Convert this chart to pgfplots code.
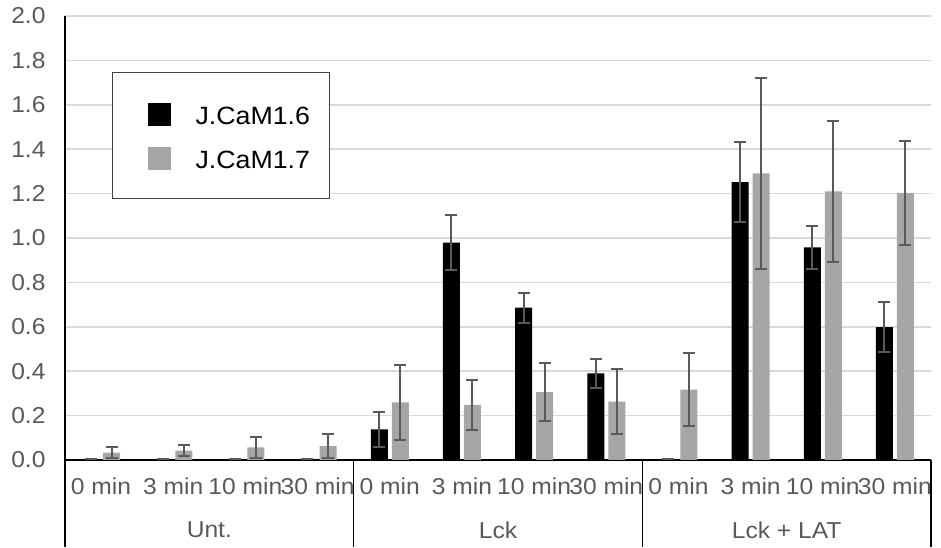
\documentclass[border=0pt]{standalone}
\usepackage{pgfplots}
\usepackage{pgfplotstable}
\pgfplotsset{compat=1.18}
\usepackage{fontspec}
\setmainfont{Liberation Sans}[FakeStretch=1.07]
\definecolor{bargray}{HTML}{A6A6A6}
\definecolor{errgray}{HTML}{595959}
\definecolor{labgray}{HTML}{595959}
\definecolor{gridgray}{HTML}{D9D9D9}
\newcommand\lab{\fontsize{23}{27}\selectfont}
\newcommand\leg{\fontsize{25}{29}\selectfont}

\pgfplotstableread{
x y e
0 0.004 0
1 0.004 0
2 0.004 0
3 0.004 0
4 0.138 0.080
5 0.979 0.125
6 0.686 0.068
7 0.390 0.066
8 0.004 0
9 1.252 0.180
10 0.958 0.098
11 0.599 0.113
}\blackdata

\pgfplotstableread{
x y e
0 0.033 0.025
1 0.042 0.026
2 0.057 0.048
3 0.063 0.053
4 0.260 0.170
5 0.248 0.112
6 0.306 0.130
7 0.263 0.145
8 0.317 0.165
9 1.291 0.430
10 1.210 0.316
11 1.203 0.233
}\graydata

\begin{document}
\begin{tikzpicture}
\begin{axis}[
  at={(0pt,0pt)}, anchor=south west,
  scale only axis, width=866pt, height=444pt,
  xmin=-0.5, xmax=11.5, ymin=0, ymax=2,
  ybar=4pt, bar width=17pt,
  axis x line=bottom, axis y line=left,
  axis line style={-, black, line width=1.5pt},
  ytick={0,0.2,0.4,0.6,0.8,1.0,1.2,1.4,1.6,1.8,2.0},
  ymajorgrids, grid style={gridgray, line width=1.5pt},
  major tick length=0pt,
  xtick={0,1,2,3,4,5,6,7,8,9,10,11},
  xticklabels={0 min,3 min,10 min,30 min,0 min,3 min,10 min,30 min,0 min,3 min,10 min,30 min},
  yticklabel style={font=\lab, text=labgray, xshift=-16pt,
     /pgf/number format/fixed, /pgf/number format/fixed zerofill,
     /pgf/number format/precision=1, /pgf/number format/assume math mode=true},
  xticklabel style={font=\lab, text=labgray, yshift=-14pt},
  clip=false,
  legend cell align=left,
  legend style={at={(0.0543,0.8739)}, anchor=north west, draw=black!75, line width=1pt,
     fill=white, font=\leg, inner xsep=17pt, inner ysep=26pt, row sep=14.3pt, column sep=23pt},
  legend image code/.code={\path (-18pt,18.2pt) (-18pt,-9.8pt);\fill[#1,/tikz/.cd] (0pt,-9.8pt) rectangle (23pt,13.2pt);},
  error bars/y dir=both, error bars/y explicit,
  error bars/error bar style={draw=errgray, line width=2pt},
  error bars/error mark options={rotate=90, draw=errgray, line width=2pt, mark size=6pt},
]
\addplot[fill=black, draw=none] table[x=x, y=y, y error=e] {\blackdata};
\addlegendentry{J.CaM1.6}
\addplot[fill=bargray, draw=none] table[x=x, y=y, y error=e] {\graydata};
\addlegendentry{J.CaM1.7}

\draw[black, line width=1.5pt] (axis cs:-0.5,0) -- ++(0pt,-87pt);
\draw[black, line width=1.5pt] (axis cs:3.5,0) -- ++(0pt,-87pt);
\draw[black, line width=1.5pt] (axis cs:7.5,0) -- ++(0pt,-87pt);
\draw[black, line width=1.5pt] (axis cs:11.5,0) -- ++(0pt,-87pt);
\node[font=\lab, text=labgray, inner sep=0pt] at ([yshift=-70pt]axis cs:1.5,0) {Unt.};
\node[font=\lab, text=labgray, inner sep=0pt] at ([yshift=-70pt]axis cs:5.5,0) {Lck};
\node[font=\lab, text=labgray, inner sep=0pt] at ([yshift=-70pt]axis cs:9.5,0) {Lck + LAT};
\end{axis}
\pgfresetboundingbox
\useasboundingbox (-65pt,-88pt) rectangle (876pt,460pt);
\end{tikzpicture}
\end{document}
